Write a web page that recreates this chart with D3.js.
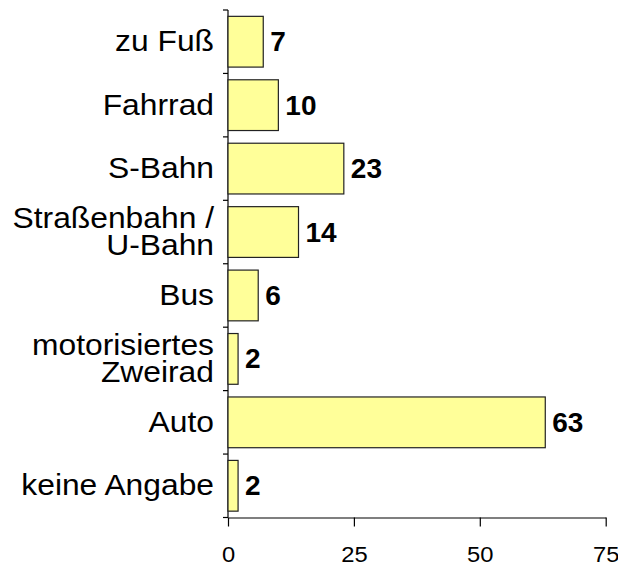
<!DOCTYPE html>
<html>
<head>
<meta charset="utf-8">
<script src="https://cdn.jsdelivr.net/npm/d3@7"></script>
<style>
  body { margin: 0; background: #fff; }
  text { font-family: Arial, "Liberation Sans", sans-serif; fill: #000; }
</style>
</head>
<body>
<svg width="618" height="565"></svg>
<script>
// Verkehrsmittel (Anteile)
var categories = ["zu Fuß", "Fahrrad", "S-Bahn", "Straßenbahn /\nU-Bahn", "Bus",
                  "motorisiertes\nZweirad", "Auto", "keine Angabe"];
var values = [7, 10, 23, 14, 6, 2, 63, 2];
var xTicks = [0, 25, 50, 75];

var svg = d3.select("svg"),
    plotLeft = 228, plotRight = 605.7, plotTop = 10, plotBottom = 517.5;

var x = d3.scaleLinear().domain([0, 75]).range([plotLeft, plotRight]);
var y = d3.scaleBand().domain(categories).range([plotTop, plotBottom])
    .paddingInner(0.2).paddingOuter(0.1);

var step = y.step();

// x axis
var xAxis = svg.append("g")
    .attr("transform", "translate(0," + plotBottom + ")")
    .call(d3.axisBottom(x).tickValues(xTicks).tickSize(9).tickSizeOuter(0));
xAxis.select(".domain").attr("stroke", "#000").attr("stroke-width", 1.2);
xAxis.selectAll(".tick line").attr("stroke", "#000").attr("stroke-width", 1.2);
xAxis.selectAll(".tick text")
    .attr("y", 45).attr("dy", null)
    .attr("font-size", 22)
    .attr("font-family", "Arial, 'Liberation Sans', sans-serif")
    .attr("transform", "scale(1.08,1)");

// y axis (ticks on category boundaries)
svg.append("line")
    .attr("x1", plotLeft).attr("x2", plotLeft)
    .attr("y1", plotTop).attr("y2", plotBottom)
    .attr("stroke", "#000").attr("stroke-width", 1.2);

svg.selectAll(".ytick")
    .data(d3.range(categories.length + 1))
  .enter().append("line")
    .attr("class", "ytick")
    .attr("x1", plotLeft - 5).attr("x2", plotLeft)
    .attr("y1", function(i) { return plotTop + i * step; })
    .attr("y2", function(i) { return plotTop + i * step; })
    .attr("stroke", "#000").attr("stroke-width", 1.2);

// bars
svg.selectAll(".bar")
    .data(values)
  .enter().append("rect")
    .attr("class", "bar")
    .attr("x", x(0))
    .attr("y", function(d, i) { return y(categories[i]); })
    .attr("width", function(d) { return x(d) - x(0); })
    .attr("height", y.bandwidth())
    .attr("fill", "#ffff99")
    .attr("stroke", "#222")
    .attr("stroke-width", 1.2);

// value labels
svg.selectAll(".val")
    .data(values)
  .enter().append("text")
    .attr("class", "val")
    .attr("x", function(d) { return x(d) + 7; })
    .attr("y", function(d, i) { return y(categories[i]) + y.bandwidth() / 2 + 9.5; })
    .attr("font-size", 28)
    .attr("font-weight", "bold")
    .text(function(d) { return d; });

// category labels
var cat = svg.selectAll(".cat")
    .data(categories)
  .enter().append("text")
    .attr("class", "cat")
    .attr("text-anchor", "end")
    .attr("font-size", 30)
    .attr("transform", function(d) {
        return "translate(214," + (y(d) + y.bandwidth() / 2) + ") scale(1.06,1)";
    });

cat.each(function(d) {
    var lines = d.split("\n");
    var t = d3.select(this);
    lines.forEach(function(l, j) {
        var yy = lines.length == 1 ? 9.5 : (j == 0 ? -4 : 23);
        t.append("tspan").attr("x", 0).attr("y", yy).text(l);
    });
});
</script>
</body>
</html>
